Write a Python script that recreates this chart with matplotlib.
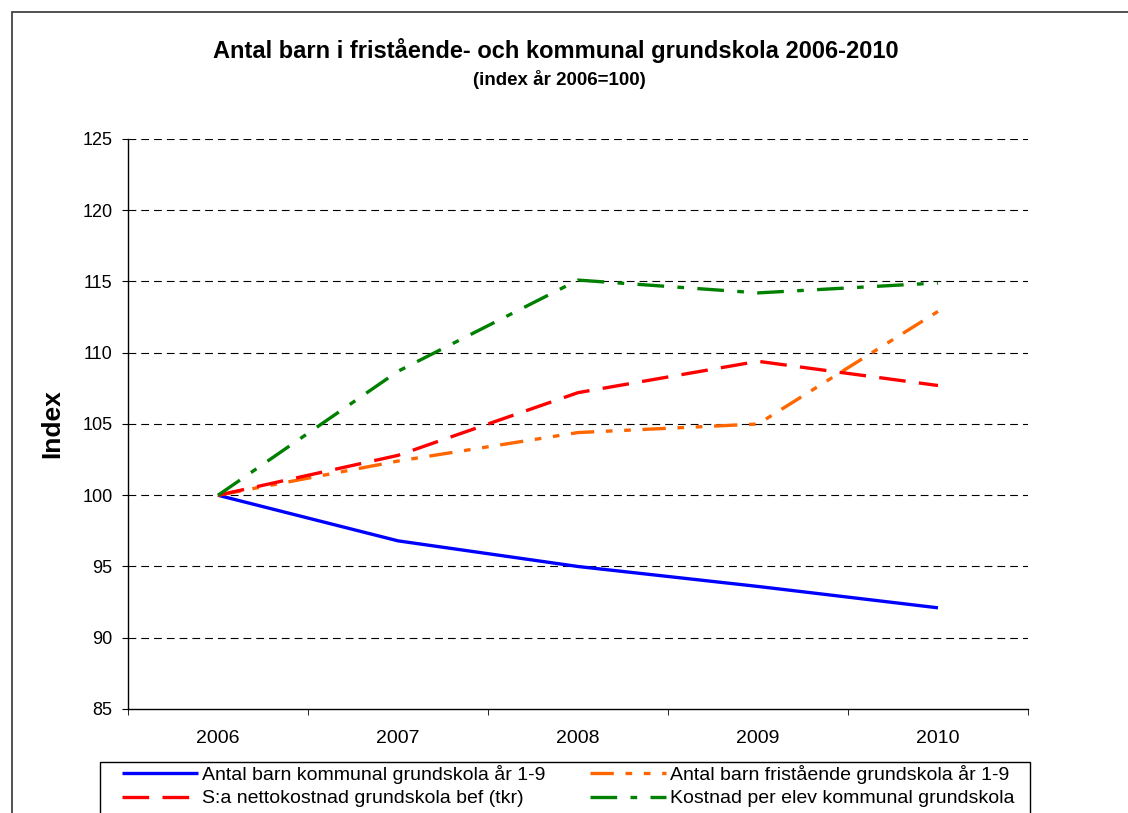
import matplotlib
matplotlib.use("Agg")
import matplotlib.pyplot as plt
from matplotlib.patches import Rectangle
from matplotlib.ticker import FixedLocator

plt.rcParams['font.family'] = ['Liberation Sans', 'DejaVu Sans']

years = ["2006", "2007", "2008", "2009", "2010"]
kommunal = [100, 96.8, 95.0, 93.6, 92.1]
fristaende = [100, 102.4, 104.4, 105.0, 112.9]
nettokostnad = [100, 102.8, 107.2, 109.4, 107.7]
kostnad_elev = [100, 108.7, 115.1, 114.2, 114.9]

labels = ["Antal barn kommunal grundskola år 1-9",
          "Antal barn fristående grundskola år 1-9",
          "S:a nettokostnad grundskola bef (tkr)",
          "Kostnad per elev kommunal grundskola"]
yticks = [85, 90, 95, 100, 105, 110, 115, 120, 125]

W, H = 1128, 813
fig = plt.figure(figsize=(W / 100, H / 100), dpi=100)
ax = fig.add_axes([128 / W, (H - 709) / H, 900 / W, 570 / H])

x = list(range(len(years)))
lw = 2.4
l1, = ax.plot(x, kommunal, color="#0000FF", lw=lw, solid_capstyle="butt")
l2, = ax.plot(x, fristaende, color="#FF6600", lw=lw, dashes=(7, 3.5, 2, 3.5, 2, 3.5))
l3, = ax.plot(x, nettokostnad, color="#FF0000", lw=lw, dashes=(8, 4))
l4, = ax.plot(x, kostnad_elev, color="#008000", lw=lw, dashes=(8, 4, 2, 4))

ax.set_xlim(-0.5, len(years) - 0.5)
ax.set_ylim(85, 125)
ax.set_yticks(yticks)
ax.set_xticks(x)
ax.set_xticklabels(years)
ax.xaxis.set_minor_locator(FixedLocator([i + 0.5 for i in range(-1, len(years))]))
ax.tick_params(axis="x", which="major", length=0, pad=15, labelsize=14)
ax.tick_params(axis="x", which="minor", length=4, direction="out", color="black")
ax.tick_params(axis="y", length=4, direction="out", labelsize=13, pad=7)

for y in yticks[1:]:
    ax.axhline(y, color="black", lw=0.8, dashes=(7, 4.5), zorder=0.5)

for s in ["top", "right"]:
    ax.spines[s].set_visible(False)
ax.spines["left"].set_linewidth(1.0)
ax.spines["bottom"].set_linewidth(1.0)

ax.set_ylabel("Index", fontsize=19, fontweight="bold", labelpad=13)

fig.text(556 / W, 1 - 58 / H, "Antal barn i fristående- och kommunal grundskola 2006-2010",
         ha="center", va="baseline", fontsize=17, fontweight="bold")
fig.text(559 / W, 1 - 85 / H, "(index år 2006=100)",
         ha="center", va="baseline", fontsize=13.5, fontweight="bold")

# outer chart border
fig.patches.append(Rectangle((12 / W, -0.05), 1.2, 1 - 12 / H + 0.05,
                             transform=fig.transFigure, fill=False,
                             edgecolor="#333333", lw=1.2))
# legend frame
fig.patches.append(Rectangle((100 / W, -0.05), 930 / W, 1 - 762 / H + 0.05,
                             transform=fig.transFigure, fill=False,
                             edgecolor="black", lw=1.0))

leg = fig.legend([l1, l3, l2, l4], [labels[0], labels[2], labels[1], labels[3]],
                 ncol=2, loc="upper left",
                 bbox_to_anchor=(122 / W, 1 - 765 / H),
                 frameon=False, fontsize=14,
                 handlelength=3.9, handletextpad=0.2, borderaxespad=0,
                 labelspacing=0.3, borderpad=0, columnspacing=2.3)

fig.savefig("out.png", dpi=100)
